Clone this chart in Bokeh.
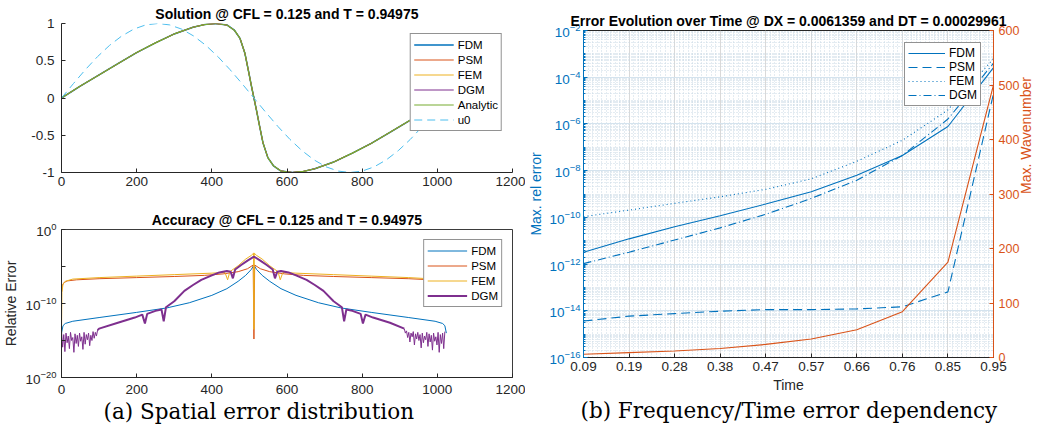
import math
import numpy as np
from bokeh.plotting import figure
from bokeh.models import (Range1d, LinearAxis, FixedTicker, Legend, LegendItem, Title,
                          NumeralTickFormatter, LinearScale)
from bokeh.layouts import row, column
from bokeh.embed import file_html
from bokeh.resources import INLINE

# ---------------- colours / fonts ----------------
C_BLUE = "#0072BD"; C_ORANGE = "#D95319"; C_YELLOW = "#EDB120"
C_PURPLE = "#7E2F8E"; C_GREEN = "#77AC30"; C_CYAN = "#4DBEEE"
AX = "#262626"
FONT = "Liberation Sans"
SERIF = "DejaVu Serif"

# ---------------- data (a) top: solution ----------------
sol_x = [0, 50, 100, 150, 200, 250, 300, 350, 380, 410, 440, 460, 475, 488, 498, 505, 512,
         519, 526, 536, 549, 564, 584, 614, 644, 674, 724, 774, 824, 874, 924, 974, 1024]
sol_u = [0, 0.16, 0.31, 0.46, 0.61, 0.74, 0.86, 0.95, 0.985, 1.0, 0.98, 0.91, 0.80, 0.60, 0.35, 0.17, 0.0,
         -0.17, -0.35, -0.60, -0.80, -0.91, -0.98, -1.0, -0.985, -0.95, -0.86, -0.74, -0.61, -0.46, -0.31, -0.16, 0]
u0_x = [0, 32, 64, 96, 128, 160, 192, 224, 256, 288, 320, 352, 384, 416, 448, 480, 512,
        544, 576, 608, 640, 672, 704, 736, 768, 800, 832, 864, 896, 928, 960, 992, 1024]
u0_u = [0, 0.195, 0.383, 0.556, 0.707, 0.831, 0.924, 0.981, 1.0, 0.981, 0.924, 0.831, 0.707, 0.556, 0.383, 0.195, 0,
        -0.195, -0.383, -0.556, -0.707, -0.831, -0.924, -0.981, -1.0, -0.981, -0.924, -0.831, -0.707, -0.556, -0.383, -0.195, 0]
a_xticks = [0, 200, 400, 600, 800, 1000, 1200]
a_yticks = [-1, -0.5, 0, 0.5, 1]

# ---------------- data (a) bottom: relative error (log10) ----------------
fdm_x = [0, 4, 10, 30, 100, 200, 280, 340, 400, 440, 470, 490, 505, 512, 519, 534, 554, 584, 624, 684,
         744, 824, 924, 994, 1014, 1020, 1024]
fdm_log = [-14.0, -13.0, -12.7, -12.4, -11.9, -11.2, -10.6, -9.9, -8.9, -8.0, -7.0, -6.2, -5.4, -4.8, -5.4, -6.2,
           -7.0, -8.0, -8.9, -9.9, -10.6, -11.2, -11.9, -12.4, -12.7, -13.0, -14.0]
psm_x = [0, 2, 6, 15, 40, 100, 200, 300, 380, 430, 470, 495, 510, 512, 514, 529, 554, 594, 644, 724,
         824, 924, 984, 1009, 1018, 1024]
psm_log = [-8.5, -7.6, -7.2, -6.95, -6.8, -6.65, -6.5, -6.35, -6.2, -6.0, -5.7, -5.3, -4.8, -14.8, -4.8, -5.3,
           -5.7, -6.0, -6.2, -6.35, -6.5, -6.65, -6.8, -6.95, -7.1, -7.2]
fem_x = [0, 1, 4, 10, 30, 100, 200, 300, 400, 435, 442, 448, 470, 490, 505, 511, 512, 513, 519, 534, 554,
         576, 582, 589, 624, 724, 824, 924, 994, 1014, 1024]
fem_log = [-14.0, -8.5, -7.4, -7.0, -6.7, -6.5, -6.3, -6.1, -5.9, -5.8, -6.8, -5.7, -4.9, -4.0, -3.5, -3.2,
           -13.5, -3.2, -3.5, -4.0, -4.9, -5.7, -6.8, -5.8, -5.9, -6.1, -6.3, -6.5, -6.7, -6.85, -6.9]
dgm_noise_l_x = list(range(0, 97, 3))
dgm_noise_l_log = [-13.8, -15.9, -14.2, -16.5, -14.0, -15.3, -14.4, -16.1, -13.9, -15.0, -14.6, -16.6, -14.1,
                   -15.4, -14.3, -15.8, -14.0, -15.1, -14.5, -16.2, -13.9, -15.5, -14.2, -14.9, -14.0, -15.7,
                   -14.3, -15.0, -13.8, -14.7, -13.9, -14.4, -13.6]
dgm_x = [96, 100, 150, 195, 215, 222, 228, 250, 266, 272, 278, 300, 327, 350, 372, 400, 420, 440, 450, 456,
         462, 478, 495, 511, 513, 529, 546, 562, 568, 574, 584, 604, 624, 652, 674, 697, 724, 746, 752, 758,
         774, 796, 802, 809, 829, 874, 912]
dgm_log = [-13.6, -13.4, -12.6, -11.9, -11.5, -12.7, -11.4, -11.0, -10.8, -12.4, -10.5, -9.7, -8.3, -7.5, -6.8,
           -6.2, -5.8, -5.6, -5.7, -6.6, -5.4, -4.8, -4.2, -3.7, -3.7, -4.2, -4.8, -5.4, -6.6, -5.7, -5.6,
           -5.8, -6.2, -6.8, -7.5, -8.3, -9.7, -10.5, -12.4, -10.8, -11.0, -11.4, -12.7, -11.5, -11.9, -12.6, -13.4]
dgm_noise_r_x = list(range(912, 1023, 3))
dgm_noise_r_log = [-13.4, -14.0, -13.7, -14.6, -13.9, -15.2, -14.0, -14.5, -13.8, -15.6, -14.1, -14.8, -13.9,
                   -15.0, -14.2, -16.0, -14.0, -15.3, -14.4, -14.9, -13.9, -15.8, -14.1, -15.2, -14.3, -16.3,
                   -14.0, -15.1, -14.5, -15.6, -13.9, -16.6, -14.2, -15.4, -14.0, -16.1, -13.8]

# ---------------- data (b): error over time ----------------
t_vals = [0.094975, 0.18995, 0.284925, 0.3799, 0.474875, 0.56985, 0.664825, 0.7598, 0.854775, 0.94975]
t_labels = ["0.09", "0.19", "0.28", "0.38", "0.47", "0.57", "0.66", "0.76", "0.85", "0.95"]
b_fdm_log = [-11.49, -10.92, -10.40, -9.93, -9.43, -8.90, -8.20, -7.35, -6.11, -3.59]
b_psm_log = [-14.44, -14.23, -14.12, -14.02, -13.95, -13.95, -13.92, -13.83, -13.19, -4.7]
b_fem_log = [-9.97, -9.69, -9.40, -9.12, -8.80, -8.35, -7.60, -6.70, -5.40, -3.20]
b_dgm_log = [-11.98, -11.49, -10.97, -10.45, -9.87, -9.19, -8.41, -7.35, -5.79, -3.40]
b_wavenumber = [6, 9, 12, 16.5, 24, 34, 51, 84, 175, 500]
wn_ticks = [0, 100, 200, 300, 400, 500, 600]


def pw(v):
    return [10.0 ** a for a in v]


def style_axis(ax, color=AX, label_color=None, standoff=3, size="13.5px"):
    ax.axis_line_color = color
    ax.major_tick_line_color = color
    ax.minor_tick_line_color = color
    ax.major_label_text_color = label_color or color
    ax.axis_label_text_color = label_color or color
    ax.major_label_text_font = FONT
    ax.major_label_text_font_size = size
    ax.axis_label_text_font = FONT
    ax.axis_label_text_font_size = "14px"
    ax.axis_label_text_font_style = "normal"
    ax.major_tick_in = 4
    ax.major_tick_out = 0
    ax.minor_tick_in = 2
    ax.minor_tick_out = 0
    ax.major_label_standoff = standoff
    ax.axis_label_standoff = 3


def style_title(t, size="14px"):
    t.text_font = FONT
    t.text_font_size = size
    t.text_font_style = "bold"
    t.text_color = "#000000"
    t.align = "center"
    t.standoff = 3


def make_legend(items, gw):
    return Legend(items=items, location="top_right", border_line_color=AX, border_line_width=1,
                  background_fill_color="white", background_fill_alpha=1.0,
                  label_text_font=FONT, label_text_font_size="11.5px", label_text_color="#000000",
                  glyph_width=gw, glyph_height=15, label_height=15, spacing=0, padding=3,
                  margin=10, label_standoff=4)


# ================= (a) top =================
pa = figure(width=525, height=200, x_range=Range1d(0, 1200), y_range=Range1d(-1, 1),
            output_backend="svg", toolbar_location=None,
            min_border_left=60, min_border_right=13, min_border_top=23, min_border_bottom=28)
pa.title.text = "Solution @ CFL = 0.125 and T = 0.94975"
style_title(pa.title)
pa.grid.visible = False
pa.outline_line_color = None
pa.xaxis.ticker = FixedTicker(ticks=a_xticks)
pa.yaxis.ticker = FixedTicker(ticks=a_yticks)
pa.yaxis.formatter = NumeralTickFormatter(format="0.[0]")
style_axis(pa.xaxis[0], standoff=4); style_axis(pa.yaxis[0], standoff=7)

ra1 = pa.line(sol_x, sol_u, color=C_BLUE, line_width=1.5)
ra2 = pa.line(sol_x, sol_u, color=C_ORANGE, line_width=1)
ra3 = pa.line(sol_x, sol_u, color=C_YELLOW, line_width=1)
ra4 = pa.line(sol_x, sol_u, color=C_PURPLE, line_width=1)
ra5 = pa.line(sol_x, sol_u, color=C_GREEN, line_width=1.2)
ra6 = pa.line(u0_x, u0_u, color=C_CYAN, line_width=1, line_dash="8 5")
pa.add_layout(make_legend([LegendItem(label="FDM", renderers=[ra1]),
                           LegendItem(label="PSM", renderers=[ra2]),
                           LegendItem(label="FEM", renderers=[ra3]),
                           LegendItem(label="DGM", renderers=[ra4]),
                           LegendItem(label="Analytic", renderers=[ra5]),
                           LegendItem(label="u0", renderers=[ra6])], 40))

# ================= (a) bottom =================
pb = figure(width=525, height=234, x_range=Range1d(0, 1200), y_range=Range1d(1e-20, 1),
            y_axis_type="log", output_backend="svg", toolbar_location=None,
            min_border_left=60, min_border_right=13, min_border_top=29, min_border_bottom=57)
pb.title.text = "Accuracy @ CFL = 0.125 and T = 0.94975"
style_title(pb.title)
pb.grid.visible = False
pb.outline_line_color = AX
pb.outline_line_alpha = 0.9
pb.xaxis.ticker = FixedTicker(ticks=a_xticks)
pb.yaxis.ticker = FixedTicker(ticks=[1e-20, 1e-10, 1e0], minor_ticks=[1e-15, 1e-5])
pb.yaxis.axis_label = "Relative Error"
style_axis(pb.xaxis[0], standoff=7); style_axis(pb.yaxis[0], standoff=5)
pb.yaxis.minor_tick_in = 4

rb1 = pb.line(fdm_x, pw(fdm_log), color=C_BLUE, line_width=1)
rb2 = pb.line(psm_x, pw(psm_log), color=C_ORANGE, line_width=1)
rb3 = pb.line(fem_x, pw(fem_log), color=C_YELLOW, line_width=1)
pb.line(dgm_noise_l_x, pw(dgm_noise_l_log), color=C_PURPLE, line_width=1)
pb.line(dgm_noise_r_x, pw(dgm_noise_r_log), color=C_PURPLE, line_width=1)
rb4 = pb.line(dgm_x, pw(dgm_log), color=C_PURPLE, line_width=2)
pb.add_layout(make_legend([LegendItem(label="FDM", renderers=[rb1]),
                           LegendItem(label="PSM", renderers=[rb2]),
                           LegendItem(label="FEM", renderers=[rb3]),
                           LegendItem(label="DGM", renderers=[rb4])], 40))
cap_a = Title(text="(a) Spatial error distribution", align="left", offset=42,
              text_font=SERIF, text_font_size="21.5px", text_font_style="normal",
              text_color="#000000", standoff=0)
pb.add_layout(cap_a, "below")

# ================= (b) right =================
pc = figure(width=520, height=434, x_range=Range1d(t_vals[0], t_vals[-1]), y_range=Range1d(1e-16, 1e-2),
            y_axis_type="log", output_backend="svg", toolbar_location=None,
            extra_y_ranges={"wn": Range1d(0, 600)}, extra_y_scales={"wn": LinearScale()},
            min_border_left=56, min_border_right=48, min_border_top=30, min_border_bottom=77)
pc.title.text = "Error Evolution over Time @ DX = 0.0061359 and DT = 0.00029961"
style_title(pc.title)
pc.outline_line_color = AX

step = (t_vals[1] - t_vals[0]) / 10.0
x_minor = [t_vals[0] + i * step for i in range(0, 91) if i % 10 != 0]
pc.xaxis.ticker = FixedTicker(ticks=t_vals, minor_ticks=x_minor)
pc.xaxis.major_label_overrides = {v: s for v, s in zip(t_vals, t_labels)}
pc.xaxis.axis_label = "Time"
style_axis(pc.xaxis[0], standoff=4)
pc.xaxis.minor_tick_in = 0

y_major = [10.0 ** e for e in range(-16, -1, 2)]
y_minor = [m * 10.0 ** e for e in range(-16, -2) for m in range(2, 10)] + [10.0 ** e for e in range(-15, -2, 2)]
pc.yaxis.ticker = FixedTicker(ticks=y_major, minor_ticks=y_minor)
pc.yaxis.axis_label = "Max. rel error"
style_axis(pc.yaxis[0], color=C_BLUE, standoff=3)
pc.yaxis.axis_label_standoff = 2

ax_r = LinearAxis(y_range_name="wn", axis_label="Max. Wavenumber", ticker=FixedTicker(ticks=wn_ticks))
style_axis(ax_r, color=C_ORANGE, standoff=5, size="12.5px")
ax_r.axis_label_orientation = math.pi / 2
ax_r.axis_label_standoff = 4
pc.add_layout(ax_r, "right")

pc.xgrid.grid_line_color = "#d9d9d9"
pc.xgrid.minor_grid_line_color = "#c8d8e4"
pc.xgrid.minor_grid_line_dash = "1 2"
pc.ygrid.grid_line_color = "#d4e3ee"
pc.ygrid.minor_grid_line_color = "#c8d8e4"
pc.ygrid.minor_grid_line_dash = "1 2"

rc1 = pc.line(t_vals, pw(b_fdm_log), color=C_BLUE, line_width=1.1)
rc2 = pc.line(t_vals, pw(b_psm_log), color=C_BLUE, line_width=1.1, line_dash="9 5")
rc3 = pc.line(t_vals, pw(b_fem_log), color=C_BLUE, line_width=1.1, line_dash="1 3")
rc4 = pc.line(t_vals, pw(b_dgm_log), color=C_BLUE, line_width=1.1, line_dash="8 3 1 3")
pc.line(t_vals, b_wavenumber, color=C_ORANGE, line_width=1.1, y_range_name="wn")
leg_c = make_legend([LegendItem(label="FDM", renderers=[rc1]),
                     LegendItem(label="PSM", renderers=[rc2]),
                     LegendItem(label="FEM", renderers=[rc3]),
                     LegendItem(label="DGM", renderers=[rc4])], 37)
leg_c.margin = 12
leg_c.label_height = 14
leg_c.glyph_height = 14
leg_c.label_text_font_size = "12px"
pc.add_layout(leg_c)
cap_b = Title(text="(b) Frequency/Time error dependency", align="left", offset=-3,
              text_font=SERIF, text_font_size="21.5px", text_font_style="normal",
              text_color="#000000", standoff=1)
pc.add_layout(cap_b, "below")

layout = row(column(pa, pb), pc)
open("out.html", "w").write(file_html(layout, INLINE))
